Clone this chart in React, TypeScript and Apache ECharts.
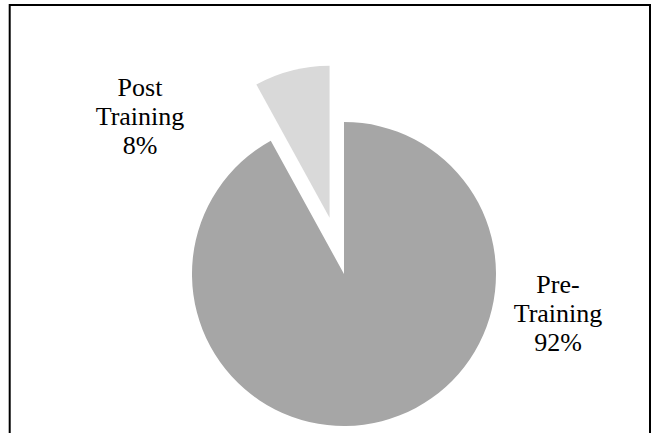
import React, { useEffect, useRef } from "react";
import * as echarts from "echarts";

const categories = ["Pre-Training", "Post Training"];
const values = [92, 8];
const colors = ["#a6a6a6", "#d9d9d9"];
const exploded = [false, true];

export default function App() {
  const ref = useRef<HTMLDivElement>(null);
  useEffect(() => {
    if (!ref.current) return;
    const chart = echarts.init(ref.current, undefined, { renderer: "svg" });
    const labelPos = [
      { x: 558, y: 313 },
      { x: 140, y: 116 },
    ];
    const baseCenter = [344, 274];
    const offset = 58;
    const total = values.reduce((a, b) => a + b, 0);
    // center for each slice (exploded slices pushed out along their mid-angle)
    let acc = 0;
    const centers = values.map((v, i) => {
      const mid = ((acc + v / 2) / total) * 2 * Math.PI;
      acc += v;
      if (!exploded[i]) return baseCenter;
      return [
        baseCenter[0] + offset * Math.sin(mid),
        baseCenter[1] - offset * Math.cos(mid),
      ];
    });
    const series = categories.map((_, si) => ({
      type: "pie",
      center: centers[si],
      radius: [0, 152],
      startAngle: 90,
      clockwise: true,
      silent: true,
      emphasis: { disabled: true },
      itemStyle: { borderWidth: 0 },
      label: {
        show: true,
        position: "outside",
        color: "#000",
        fontFamily: "'Liberation Serif', 'Times New Roman', serif",
        fontSize: 26,
        lineHeight: 29,
        align: "center",
        formatter: (p: any) =>
          String(p.name).replace("-", "-\n").replace(" ", "\n") +
          "\n" +
          Math.round(p.percent) +
          "%",
      },
      labelLine: { show: false },
      labelLayout: (params: any) => ({
        x: labelPos[params.dataIndex].x,
        y: labelPos[params.dataIndex].y,
        align: "center",
        verticalAlign: "middle",
      }),
      data: categories.map((name, i) => ({
        name,
        value: values[i],
        itemStyle: { color: i === si ? colors[i] : "rgba(0,0,0,0)" },
        label: { show: i === si },
      })),
    }));
    chart.setOption({
      animation: false,
      backgroundColor: "#ffffff",
      graphic: [
        {
          type: "polyline",
          shape: { points: [[9.7, 440], [9.7, 5], [650, 5], [650, 440]] },
          style: { stroke: "#000", lineWidth: 2, fill: "none" },
          silent: true,
        },
      ],
      series,
    });
    return () => chart.dispose();
  }, []);
  return (
    <div
      ref={ref}
      style={{ position: "absolute", left: 0, top: 0, width: 654, height: 433 }}
    />
  );
}
